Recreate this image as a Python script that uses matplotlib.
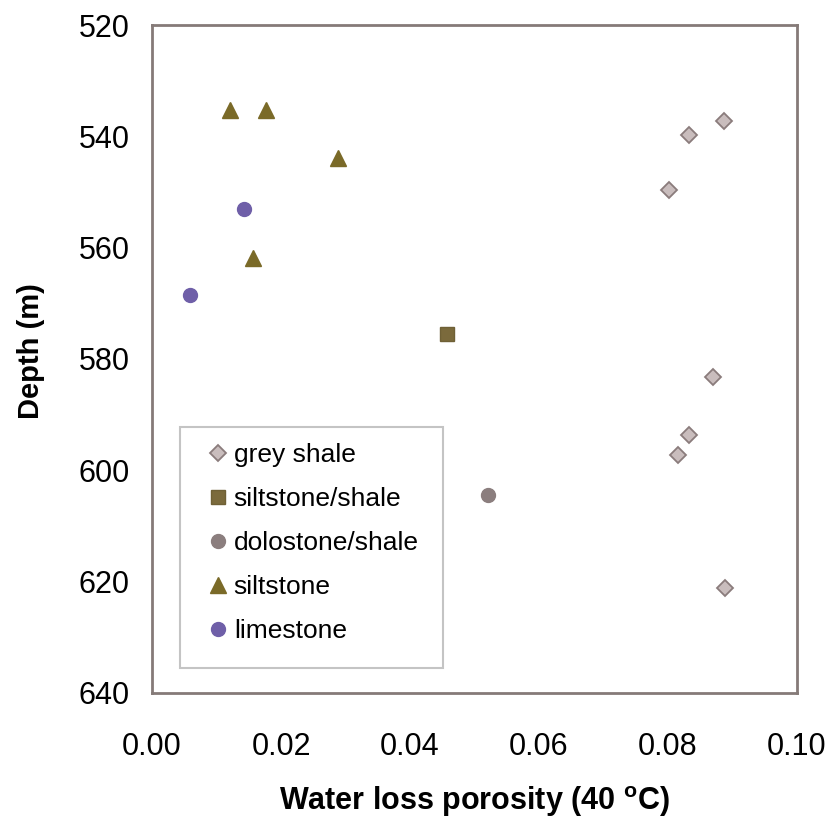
import matplotlib.pyplot as plt
from matplotlib.patches import Rectangle

plt.rcParams['font.family'] = ['Liberation Sans', 'DejaVu Sans']
plt.rcParams['mathtext.fontset'] = 'custom'
plt.rcParams['mathtext.rm'] = 'Liberation Sans'
plt.rcParams['mathtext.bf'] = 'Liberation Sans:bold'

# Water loss porosity vs depth for each lithology
grey_shale_por = [0.0887, 0.0833, 0.0802, 0.0870, 0.0833, 0.0816, 0.0888]
grey_shale_depth = [537.2, 539.8, 549.6, 583.2, 593.6, 597.2, 621.1]

silt_shale_por = [0.0457]
silt_shale_depth = [575.5]

dolo_shale_por = [0.0521]
dolo_shale_depth = [604.4]

siltstone_por = [0.0121, 0.0177, 0.0288, 0.0157]
siltstone_depth = [535.3, 535.3, 543.9, 561.9]

limestone_por = [0.0143, 0.0059]
limestone_depth = [553.1, 568.5]

x_ticks = [0.00, 0.02, 0.04, 0.06, 0.08, 0.10]
y_ticks = [520, 540, 560, 580, 600, 620, 640]

fig = plt.figure(figsize=(8.31, 8.21), dpi=100)
ax = fig.add_axes([0.183, 0.156, 0.776, 0.8135])

ax.plot(grey_shale_por, grey_shale_depth, 'D', ms=8.5, mfc='#c9bdbd',
        mec='#8a7c7c', mew=1.3, ls='none', label='grey shale')
ax.plot(silt_shale_por, silt_shale_depth, 's', ms=10, mfc='#7b6a3c',
        mec='#6f6036', ls='none', label='siltstone/shale')
ax.plot(dolo_shale_por, dolo_shale_depth, 'o', ms=10, mfc='#8b7e7e',
        mec='#8b7e7e', ls='none', label='dolostone/shale')
ax.plot(siltstone_por, siltstone_depth, '^', ms=11, mfc='#7a6a28',
        mec='#7a6a28', ls='none', label='siltstone')
ax.plot(limestone_por, limestone_depth, 'o', ms=10, mfc='#6f5fa8',
        mec='#6f5fa8', ls='none', label='limestone')

ax.set_xlim(0, 0.10)
ax.set_ylim(640, 520)
ax.set_xticks(x_ticks)
ax.set_xticklabels([f'{v:.2f}' for v in x_ticks])
ax.set_yticks(y_ticks)
ax.tick_params(axis='both', length=0, labelsize=22)
ax.tick_params(axis='x', pad=28)
ax.tick_params(axis='y', pad=16)

for sp in ax.spines.values():
    sp.set_color('#857a78')
    sp.set_linewidth(2)

ax.set_xlabel('Water loss porosity (40 $^\\mathbf{o}$C)', fontsize=22,
              fontweight='bold', labelpad=16)
ax.set_ylabel('Depth (m)', fontsize=21, fontweight='bold')
ax.yaxis.set_label_coords(-0.166, 0.512)

# legend frame is wider than tall, so draw it separately
ax.add_patch(Rectangle((0.0434, 0.0374), 0.4076, 0.3606, transform=ax.transAxes,
                       fill=False, edgecolor='#c4c4c4', lw=1.5, zorder=3))
leg = ax.legend(loc='upper left', bbox_to_anchor=(0.0899, 0.374), fontsize=19,
                frameon=False, handlelength=0.6, handletextpad=0.3,
                labelspacing=0.76, borderpad=0, borderaxespad=0)

fig.savefig('out.png', dpi=100, facecolor='white')
